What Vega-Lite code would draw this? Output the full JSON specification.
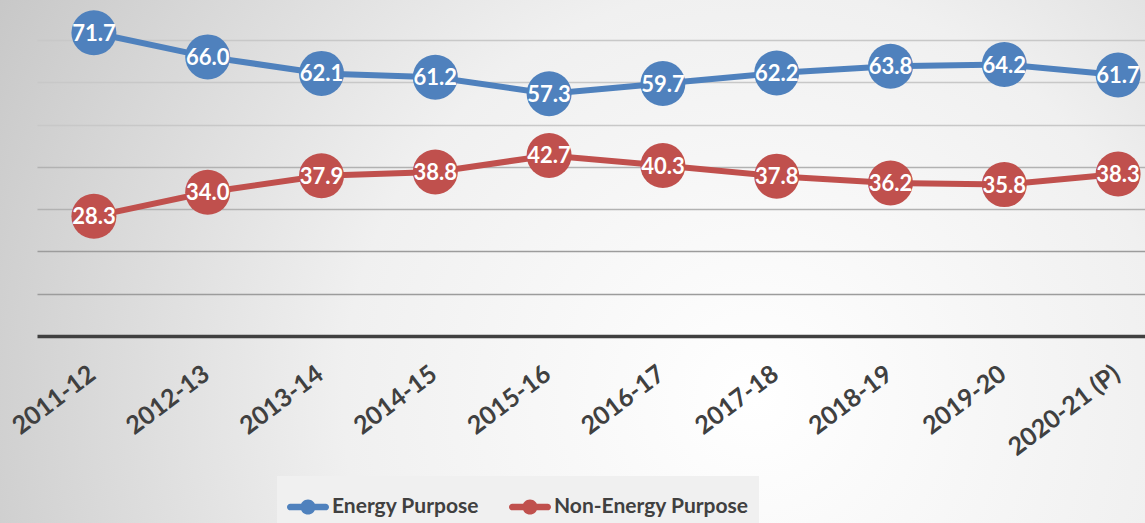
{
  "$schema": "https://vega.github.io/schema/vega-lite/v6.json",
  "width": 1145,
  "height": 523,
  "autosize": "none",
  "padding": 0,
  "background": "#d6d6d6",
  "config": {
    "view": {
      "stroke": null,
      "fill": {
        "gradient": "radial",
        "x1": 0.66, "y1": 0.62, "x2": 0.66, "y2": 0.62,
        "r1": 0, "r2": 0.8,
        "stops": [
          {"offset": 0, "color": "#ffffff"},
          {"offset": 0.45, "color": "#f0f0f0"},
          {"offset": 1, "color": "#c2c2c2"}
        ]
      }
    },
    "legend": {
      "orient": "none",
      "legendX": 277,
      "legendY": 476,
      "direction": "horizontal",
      "symbolType": "M-0.84,-0.16 L0.84,-0.16 A0.16,0.16 0 0,1 0.84,0.16 L-0.84,0.16 A0.16,0.16 0 0,1 -0.84,-0.16 Z M-0.36,0 A0.36,0.36 0 1,1 0.36,0 A0.36,0.36 0 1,1 -0.36,0 Z",
      "symbolSize": 1764,
      "symbolStrokeWidth": 0,
      "symbolOpacity": 1,
      "labelFont": "Lato",
      "labelFontWeight": "bold",
      "labelFontSize": 21,
      "labelColor": "#404040",
      "labelLimit": 400,
      "labelOffset": 3,
      "columnPadding": 30,
      "fillColor": "#f0f0f0",
      "padding": 10
    }
  },
  "data": {
    "values": [
      {"year": "2011-12", "series": "Energy Purpose", "value": 71.7},
      {"year": "2012-13", "series": "Energy Purpose", "value": 66.0},
      {"year": "2013-14", "series": "Energy Purpose", "value": 62.1},
      {"year": "2014-15", "series": "Energy Purpose", "value": 61.2},
      {"year": "2015-16", "series": "Energy Purpose", "value": 57.3},
      {"year": "2016-17", "series": "Energy Purpose", "value": 59.7},
      {"year": "2017-18", "series": "Energy Purpose", "value": 62.2},
      {"year": "2018-19", "series": "Energy Purpose", "value": 63.8},
      {"year": "2019-20", "series": "Energy Purpose", "value": 64.2},
      {"year": "2020-21 (P)", "series": "Energy Purpose", "value": 61.7},
      {"year": "2011-12", "series": "Non-Energy Purpose", "value": 28.3},
      {"year": "2012-13", "series": "Non-Energy Purpose", "value": 34.0},
      {"year": "2013-14", "series": "Non-Energy Purpose", "value": 37.9},
      {"year": "2014-15", "series": "Non-Energy Purpose", "value": 38.8},
      {"year": "2015-16", "series": "Non-Energy Purpose", "value": 42.7},
      {"year": "2016-17", "series": "Non-Energy Purpose", "value": 40.3},
      {"year": "2017-18", "series": "Non-Energy Purpose", "value": 37.8},
      {"year": "2018-19", "series": "Non-Energy Purpose", "value": 36.2},
      {"year": "2019-20", "series": "Non-Energy Purpose", "value": 35.8},
      {"year": "2020-21 (P)", "series": "Non-Energy Purpose", "value": 38.3}
    ]
  },
  "encoding": {
    "x": {
      "field": "year",
      "type": "ordinal",
      "sort": null,
      "scale": {"type": "point", "range": [37, 1175], "padding": 0.5},
      "axis": {
        "title": null,
        "orient": "bottom",
        "offset": -187,
        "labelAngle": -37,
        "labelAlign": "right",
        "labelBaseline": "top",
        "labelFont": "Lato",
        "labelFontWeight": "bold",
        "labelFontSize": 25,
        "labelColor": "#404040",
        "labelPadding": 25,
        "labelOffset": -9,
        "labelOverlap": false,
        "labelBound": false,
        "ticks": false,
        "grid": false,
        "domain": true,
        "domainColor": "#404040",
        "domainWidth": 3.5
      }
    },
    "y": {
      "field": "value",
      "type": "quantitative",
      "scale": {"domain": [0, 80], "range": [336, -2.3], "nice": false},
      "axis": {
        "title": null,
        "labels": false,
        "ticks": false,
        "domain": false,
        "values": [10, 20, 30, 40, 50, 60, 70],
        "grid": true,
        "gridWidth": 1.5,
        "gridColor": {
          "condition": [
            {"test": "datum.value <= 20", "value": "#9c9c9c"},
            {"test": "datum.value <= 40", "value": "#b2b2b2"}
          ],
          "value": "#c8c8c8"
        }
      }
    },
    "color": {
      "field": "series",
      "type": "nominal",
      "scale": {"domain": ["Energy Purpose", "Non-Energy Purpose"], "range": ["#4f81bd", "#c0504d"]},
      "legend": {"title": null}
    }
  },
  "layer": [
    {
      "mark": {"type": "line", "strokeWidth": 6}
    },
    {
      "mark": {"type": "point", "filled": true, "size": 2025, "opacity": 1}
    },
    {
      "mark": {"type": "text", "color": "#ffffff", "font": "Lato", "fontWeight": "bold", "fontSize": 22, "align": "center", "baseline": "middle", "dy": 1},
      "encoding": {
        "text": {"field": "value", "type": "quantitative", "format": ".1f"},
        "color": {"value": "#ffffff"},
        "detail": {"field": "series", "type": "nominal"}
      }
    }
  ]
}
